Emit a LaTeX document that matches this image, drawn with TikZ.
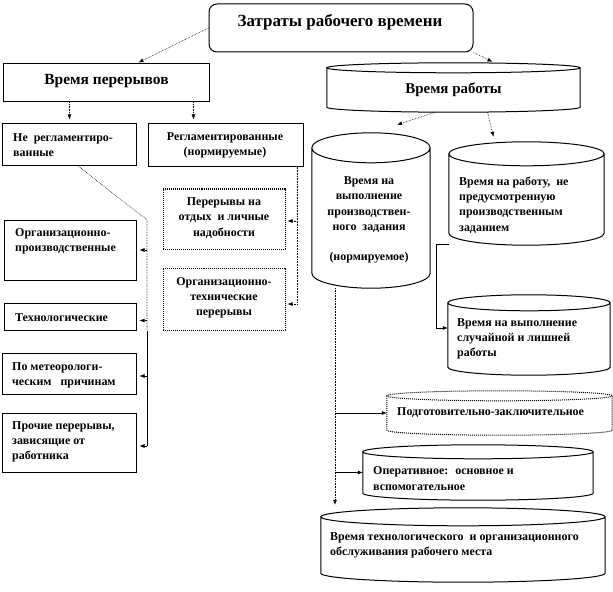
\documentclass[tikz,border=0pt]{standalone}
\usepackage{fontspec}
\setmainfont{Liberation Serif}
\usetikzlibrary{calc,arrows.meta}
\newcommand\cylframe[3][]{%
  \filldraw[fill=white,line width=1bp,#1] let \p1=(#2.north west), \p2=(#2.south east), \n1={(\x2-\x1)/2} in
  (\x1,\y1-#3) -- (\x1,\y2+#3) arc[start angle=180,end angle=360,x radius=\n1,y radius=#3]
  -- (\x2,\y1-#3) arc[start angle=0,end angle=360,x radius=\n1,y radius=#3];}
\begin{document}
\begin{tikzpicture}[x=1bp,y=1bp,
  frame/.style={draw,line width=1bp,inner sep=0pt,fill=white},
  ghost/.style={inner sep=0pt},
  tx/.style={inner sep=0pt,font=\bfseries\fontsize{12}{15.3}\selectfont},
  big/.style={inner sep=0pt,font=\bfseries\fontsize{15.5}{17}\selectfont},
  dl/.style={line width=0.6pt,densely dotted},
  sl/.style={line width=0.6pt},
  tip/.style={-{Latex[length=5bp,width=4bp]}},
]
\useasboundingbox (0,0) rectangle (613,-592);

% top
\node[frame,rounded corners=8bp,minimum width=264bp,minimum height=48bp] (top) at (341,-28) {};
\node[big,font=\bfseries\fontsize{17}{19}\selectfont] (top-t) at (340,-22) {Затраты рабочего времени};

% left branch
\node[frame,minimum width=205bp,minimum height=38bp] (vp) at (106.5,-83) {};
\node[big] (vp-t) at (106.5,-81) {Время перерывов};

\node[frame,minimum width=133bp,minimum height=41bp] (nr) at (69.5,-144.5) {};
\node[tx,anchor=west,align=left] (nr-t) at (13,-145) {Не \ регламентиро-\\ванные};

\node[frame,minimum width=155bp,minimum height=42bp] (rg) at (225.5,-145) {};
\node[tx,align=center] (rg-t) at (225,-145) {Регламентированные\\(нормируемые)};

\node[frame,densely dotted,minimum width=122bp,minimum height=60bp] (otd) at (224,-219) {};
\node[tx,align=center] (otd-t) at (224,-218) {Перерывы на\\отдых \ и личные\\надобности};

\node[frame,densely dotted,minimum width=122bp,minimum height=62bp] (ort) at (224,-299) {};
\node[tx,align=center] (ort-t) at (224,-298) {Организационно-\\технические\\перерывы};

\node[frame,minimum width=131bp,minimum height=60bp] (op) at (70.5,-250) {};
\node[tx,anchor=west,align=left] (op-t) at (15,-241.5) {Организационно-\\производственные};

\node[frame,minimum width=131bp,minimum height=27bp] (tech) at (70.5,-316.5) {};
\node[tx,anchor=west] (tech-t) at (15,-318) {Технологические};

\node[frame,minimum width=133bp,minimum height=41bp] (met) at (69.5,-373.5) {};
\node[tx,anchor=west,align=left] (met-t) at (12,-375.5) {По метеорологи-\\ческим \ \ причинам};

\node[frame,minimum width=133bp,minimum height=59bp] (pr) at (69.5,-442.5) {};
\node[tx,anchor=west,align=left] (pr-t) at (12,-442) {Прочие перерывы,\\зависящие от\\работника};

% right branch
\node[ghost,minimum width=253bp,minimum height=49bp] (vr) at (453.5,-87.5) {};
\cylframe{vr}{5bp}
\node[big,font=\bfseries\fontsize{15}{17}\selectfont] (vr-t) at (453.5,-90) {Время работы};

\node[ghost,minimum width=118bp,minimum height=155bp] (c1) at (371,-210.5) {};
\cylframe{c1}{15bp}
\node[tx,align=center] (c1-t) at (369,-220) {Время на\\выполнение\\производствен-\\ного \ задания\\\mbox{}\\(нормируемое)};

\node[ghost,minimum width=155bp,minimum height=103bp] (c2) at (526.5,-193.5) {};
\cylframe{c2}{12bp}
\node[tx,anchor=west,align=left] (c2-t) at (459,-205) {Время на работу, \ не\\предусмотренную\\производственным\\заданием};

\node[ghost,minimum width=162bp,minimum height=80bp] (c3) at (529,-335) {};
\cylframe{c3}{8bp}
\node[tx,anchor=west,align=left] (c3-t) at (457,-339) {Время на выполнение\\случайной и лишней\\работы};

\node[ghost,minimum width=225bp,minimum height=44bp] (pz) at (499.5,-413) {};
\cylframe[densely dotted]{pz}{5bp}
\node[tx,anchor=west] (pz-t) at (397,-413) {Подготовительно-заключительное};

\node[ghost,minimum width=230bp,minimum height=55bp] (opr) at (478,-472.5) {};
\cylframe{opr}{7bp}
\node[tx,anchor=west,align=left] (opr-t) at (373,-478.5) {Оперативное: \ основное и\\вспомогательное};

\node[ghost,minimum width=284bp,minimum height=74bp] (tob) at (463,-545) {};
\cylframe{tob}{9bp}
\node[tx,anchor=west,align=left] (tob-t) at (330,-545) {Время технологического \ и организационного\\обслуживания рабочего места};

% connectors
\draw[dl,tip] (top.west) -- ([xshift=32bp,yshift=1bp]vp.north);
\draw[dl,tip] (top.south east) -- ([xshift=39bp,yshift=1bp]vr.north);
\draw[dl,tip] (vp.south -| nr.north) -- ([yshift=4bp]nr.north);
\draw[dl,tip] ([xshift=-32bp]rg.north |- vp.south) -- ([xshift=-32bp,yshift=4bp]rg.north);
\draw[dl,tip] ([xshift=-18bp]vr.south) -- ([xshift=26bp,yshift=8bp]c1.north);
\draw[dl,tip] ([xshift=34bp]vr.south) -- ([xshift=-33bp,yshift=5bp]c2.north);

% left column
\coordinate (jL) at (147,-220);
\draw[dl] ([xshift=8bp]nr.south) -- (jL) -- (jL |- tech.south);
\draw[sl] (jL |- tech.south) -- ([yshift=-3.5bp]jL |- pr.east);
\draw[dl,tip] (jL |- op.east) -- ([xshift=3bp]op.east);
\draw[dl,tip] ([yshift=-4bp]jL |- tech.east) -- ([xshift=3bp,yshift=-4bp]tech.east);
\draw[sl,tip] ([yshift=-2.5bp]jL |- met.east) -- ([xshift=3bp,yshift=-2.5bp]met.east);
\draw[sl,tip] ([yshift=-3.5bp]jL |- pr.east) -- ([xshift=3bp,yshift=-3.5bp]pr.east);

% right of regulated
\coordinate (jR) at ([xshift=-6bp]rg.south east);
\draw[dl] (jR) -- ([yshift=-5bp]jR |- ort.east);
\draw[dl,tip] ([yshift=-2bp]jR |- otd.east) -- ([xshift=2bp,yshift=-2bp]otd.east);
\draw[dl,tip] ([yshift=-5bp]jR |- ort.east) -- ([xshift=2bp,yshift=-5bp]ort.east);

% c2 -> c3
\draw[sl,tip] ([yshift=1bp]c2.south west) -- ++(-13bp,0) |- ([yshift=7bp]c3.west);

% c1 down
\coordinate (jC) at ([xshift=-36bp]c1.south);
\draw[dl,tip] (jC) -- ([yshift=3bp]jC |- tob.north);
\draw[sl,tip] (jC |- pz.west) -- (pz.west);
\draw[sl,tip] (jC |- opr.west) -- (opr.west);
\end{tikzpicture}
\end{document}
